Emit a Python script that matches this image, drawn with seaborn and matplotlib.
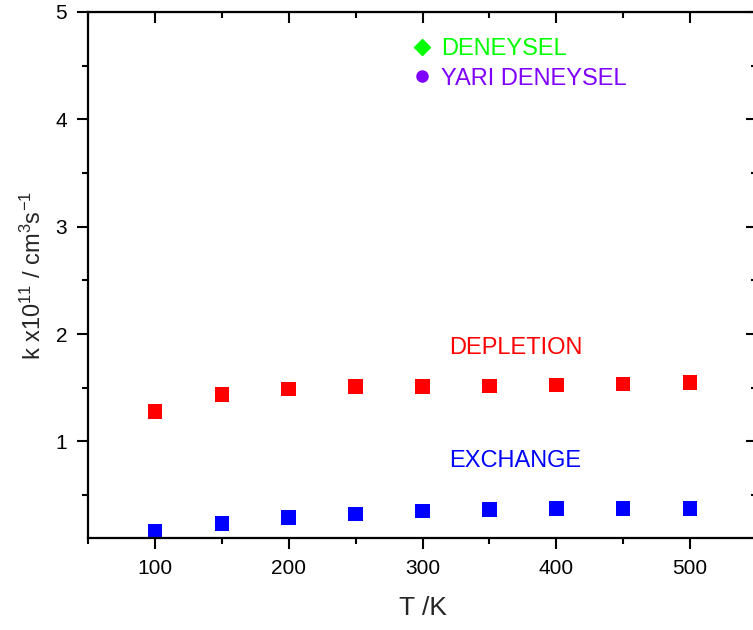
import pandas as pd
import matplotlib
matplotlib.use("Agg")
import matplotlib.pyplot as plt
import seaborn as sns
from matplotlib.lines import Line2D

# data
temps = [100, 150, 200, 250, 300, 350, 400, 450, 500]
k_depletion = [1.28, 1.437, 1.49, 1.51, 1.51, 1.518, 1.527, 1.536, 1.549]
k_exchange = [0.16, 0.237, 0.29, 0.324, 0.352, 0.367, 0.377, 0.377, 0.377]

df = pd.DataFrame({
    "T": temps * 2,
    "k": k_depletion + k_exchange,
    "type": ["DEPLETION"] * len(temps) + ["EXCHANGE"] * len(temps),
})

sns.set_style("white")
plt.rcParams["font.family"] = ["Liberation Sans", "DejaVu Sans"]
plt.rcParams["mathtext.fontset"] = "custom"
plt.rcParams["mathtext.rm"] = "Liberation Sans"
plt.rcParams["mathtext.it"] = "Liberation Sans"

fig = plt.figure(figsize=(7.53, 6.30), dpi=100)
ax = fig.add_axes([0.1169, 0.146, 0.8884, 0.835])

sns.scatterplot(data=df, x="T", y="k", hue="type", marker="s", s=110,
                palette={"DEPLETION": "#ff0000", "EXCHANGE": "#0000ff"},
                edgecolor="none", legend=False, ax=ax)

ax.set_xlim(50, 550)
ax.set_ylim(0.1, 5)
ax.set_xticks([100, 200, 300, 400, 500])
ax.set_xticks([50, 150, 250, 350, 450], minor=True)
ax.set_yticks([1, 2, 3, 4, 5])
ax.set_yticks([0.5, 1.5, 2.5, 3.5, 4.5], minor=True)

for s in ax.spines.values():
    s.set_linewidth(1.6)
    s.set_visible(True)
    s.set_color("black")

ax.tick_params(which="both", bottom=True, left=True, top=False, right=False)
ax.tick_params(which="major", direction="out", length=8, width=1.5, labelsize=15,
               colors="black", pad=7)
ax.tick_params(which="minor", direction="out", length=4, width=1.5, colors="black")

# inward ticks on top and right
top = ax.secondary_xaxis("top")
top.set_xticks([100, 200, 300, 400, 500])
top.set_xticks([50, 150, 250, 350, 450], minor=True)
top.tick_params(which="both", top=True, labeltop=False, colors="black")
top.tick_params(which="major", direction="in", length=8, width=1.5)
top.tick_params(which="minor", direction="in", length=4, width=1.5)
right = ax.secondary_yaxis("right")
right.set_yticks([1, 2, 3, 4, 5])
right.set_yticks([0.5, 1.5, 2.5, 3.5, 4.5], minor=True)
right.tick_params(which="both", right=True, labelright=False, colors="black")
right.tick_params(which="major", direction="in", length=8, width=1.5)
right.tick_params(which="minor", direction="in", length=4, width=1.5)

ax.set_xlabel("T /K", fontsize=19, labelpad=13)
ax.set_ylabel(r"k x10$^{11}$ / cm$^{3}$s$^{-1}$", fontsize=17, labelpad=7)

ax.text(320, 1.87, "DEPLETION", color="#ff0000", fontsize=17, va="center", ha="left")
ax.text(320, 0.82, "EXCHANGE", color="#0000ff", fontsize=17, va="center", ha="left")

handles = [
    Line2D([], [], marker="D", color="#00ff00", linestyle="", markersize=8),
    Line2D([], [], marker="o", color="#8000ff", linestyle="", markersize=8),
]
leg = ax.legend(handles, ["DENEYSEL", "YARI DENEYSEL"], loc="upper left",
                bbox_to_anchor=(0.454, 0.99), frameon=False, fontsize=17,
                handlelength=0.8, handletextpad=0.4, labelspacing=0.3,
                labelcolor=["#00ff00", "#8000ff"])

fig.savefig("out.png", dpi=100)
